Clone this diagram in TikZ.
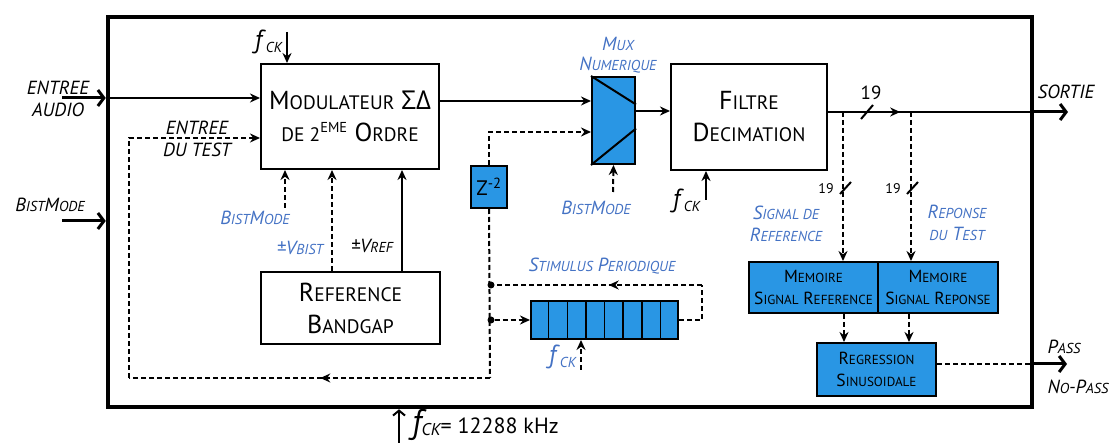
\documentclass[tikz,border=0pt]{standalone}
\usepackage{fontspec}
\setmainfont{PT Sans}
\newfontfamily\grk{Open Sans}
\usepackage{relsize}
\usetikzlibrary{arrows.meta, positioning, calc, decorations.markings}
\definecolor{mblue}{RGB}{41,150,228}
\definecolor{lblue}{RGB}{68,114,196}
\newcommand{\sk}[1]{\textscale{.75}{#1}}
\newcommand{\fck}{\textit{f}\raisebox{-.3ex}{\textscale{.58}{\textit{CK}}}}

\begin{document}
\begin{tikzpicture}[x=1pt, y=-1pt,
          box/.style={rectangle, draw, line width=2pt, align=center, inner sep=0pt, font=\fontsize{26}{32}\selectfont},
          bluebox/.style={box, fill=mblue, font=\fontsize{17.5}{22}\selectfont},
          sig/.style={line width=2pt},
          dsig/.style={sig, dash pattern=on 5pt off 3pt},
          arr/.style={-{Stealth[length=10pt,width=9pt]}},
          bigarr/.style={line width=3pt, -{Straight Barb[length=6pt,width=16pt]}},
          midarrow/.style={postaction={decorate}, decoration={markings, mark=at position #1 with {\arrow{Stealth[length=10pt,width=9pt]}}}},
          dot/.style={circle, fill, inner sep=0pt, minimum size=7pt},
          lbl/.style={font=\fontsize{19}{24}\selectfont\itshape, align=center, inner sep=0pt},
          blbl/.style={lbl, text=lblue}]
        \useasboundingbox (0,0) rectangle (1116,443);
        \node [draw, line width=4.5pt, minimum width=924pt, minimum height=390pt, inner sep=0pt] (frame) at (570,212) {};

        % blocs
        \node [box, minimum width=178pt, minimum height=105pt] (mod) at (350,116.5) {M\sk{ODULATEUR} {\grk ΣΔ}\\\sk{DE 2}\textsuperscript{\sk{EME}} O\sk{RDRE}};
        \node [box, minimum width=179pt, minimum height=72pt] (bg) at (350.5,308) {R\sk{EFERENCE}\\B\sk{ANDGAP}};
        \node [box, minimum width=156pt, minimum height=106pt] (filt) at (749,117) {F\sk{ILTRE}\\D\sk{ECIMATION}};
        \node [bluebox, minimum width=43pt, minimum height=87pt] (mux) at (613.5,120.5) {};
        \node [bluebox, minimum width=36pt, minimum height=42pt, font=\fontsize{21}{24}\selectfont] (zinv) at (489,187) {Z\textsuperscript{-2}};
        \node [bluebox, minimum width=129pt, minimum height=51pt] (memref) at (813.5,287.5) {M\sk{EMOIRE}\\S\sk{IGNAL} R\sk{EFERENCE}};
        \node [bluebox, minimum width=120pt, minimum height=51pt] (memrep) at (938,287.5) {M\sk{EMOIRE}\\S\sk{IGNAL} R\sk{EPONSE}};
        \node [bluebox, minimum width=119pt, minimum height=53pt] (reg) at (876.5,369.5) {R\sk{EGRESSION}\\S\sk{INUSOIDALE}};
        \node [bluebox, minimum width=147pt, minimum height=38pt] (shreg) at (604.5,320) {};
        \foreach \i in {1,...,7}
          \draw [line width=1.5pt] ($(shreg.south west)!\i/8!(shreg.south east)$) -- ($(shreg.north west)!\i/8!(shreg.north east)$);
        \draw [line width=2pt] (mux.north west) -- ($(mux.north east)!0.32!(mux.south east)$);
        \draw [line width=2pt] (mux.south west) -- ($(mux.north east)!0.59!(mux.south east)$);

        % textes
        \node [lbl] (audio) at (58,99) {ENTREE\\[-2pt]AUDIO};
        \node [lbl] (test) at (197,139) {ENTREE\\[-2pt]DU TEST};
        \node [lbl] (bmleft) at (50,205) {B\sk{IST}M\sk{ODE}};
        \node [lbl, anchor=east, font=\fontsize{26}{28}\selectfont] (fcktop) at (283,42) {\fck};
        \node [blbl] (bmmod) at (255,218) {B\sk{IST}M\sk{ODE}};
        \node [blbl] (vbist) at (300,248) {±V\sk{BIST}};
        \node [lbl] (vref) at (372,246) {±V\sk{REF}};
        \node [blbl] (muxlbl) at (618,55) {M\sk{UX}\\[-4pt]N\sk{UMERIQUE}};
        \node [blbl] (bmmux) at (596,208) {B\sk{IST}M\sk{ODE}};
        \node [lbl, anchor=east, font=\fontsize{26}{28}\selectfont] (fckfilt) at (701,201) {\fck};
        \node [font=\fontsize{19}{20}\selectfont, inner sep=0pt] (n19) at (871,93) {19};
        \node [font=\fontsize{14}{14}\selectfont, inner sep=0pt] (n19a) at (826,189) {19};
        \node [font=\fontsize{14}{14}\selectfont, inner sep=0pt] (n19b) at (893,189) {19};
        \node [lbl] (sortie) at (1066,92) {SORTIE};
        \node [blbl] (sigref) at (786,224) {S\sk{IGNAL DE}\\[-2pt]R\sk{EFERENCE}};
        \node [blbl] (reptest) at (957,223) {R\sk{EPONSE}\\[-2pt]\sk{DU} T\sk{EST}};
        \node [blbl] (stim) at (602,266) {S\sk{TIMULUS} P\sk{ERIODIQUE}};
        \node [blbl, anchor=east, font=\fontsize{26}{28}\selectfont] (fckreg) at (577,357) {\fck};
        \node [lbl] (pass) at (1064,347) {P\sk{ASS}};
        \node [lbl] (nopass) at (1078,387) {N\sk{O}-P\sk{ASS}};
        \node [inner sep=0pt, anchor=west] (fckmain) at (412,425) {{\fontsize{34}{34}\selectfont\itshape f}\raisebox{-.3ex}{\fontsize{17}{17}\selectfont\itshape CK}{\fontsize{22}{24}\selectfont= 12288 kHz}};

        % niveaux
        \coordinate (yaud) at (0,98);
        \coordinate (ytin) at (0,138);
        \coordinate (ymod) at (0,101);
        \coordinate (ytst) at (0,132);
        \coordinate (ymx) at (0,111);
        \coordinate (yout) at (0,112);
        \coordinate (ypass) at (0,364);
        \coordinate (ain) at (62,98);
        \coordinate (bin) at (62,221);
        \coordinate (ctop) at (287,32);
        \coordinate (cfilt) at (706,200);
        \coordinate (creg) at (581,370);
        \coordinate (cmain) at (399,443);
        \coordinate (zb) at (490,378);
        \coordinate (lb) at (129,378);
        \coordinate (lt) at (129,138);
        \coordinate (sr) at (702,320);
        \coordinate (st) at (702,285);
        \coordinate (br1) at (843,112);
        \coordinate (br2) at (911,112);
        \coordinate (m1) at (844,0);
        \coordinate (m2) at (909,0);
        \coordinate (vb) at (332,0);
        \coordinate (vr) at (402,0);
        \coordinate (vm) at (285,208);
        \coordinate (vx) at (613,192);
        \node [dot] (d1) at (491,285) {};
        \node [dot] (d2) at (491,320) {};

        % liaisons
        \draw [bigarr] (ain) -- (ain -| frame.west);
        \draw [bigarr] (bin) -- (bin -| frame.west);
        \draw [sig, arr] (yaud -| frame.west) -- (yaud -| mod.west);
        \draw [sig, arr] (ctop) -- (ctop |- mod.north);
        \draw [sig, arr] (ymod -| mod.east) -- (ymod -| mux.west);
        \draw [dsig] (zinv.south) -- (zb);
        \draw [dsig, midarrow=0.47] (zb) -- (lb);
        \draw [dsig, arr] (lb) -- (lt) -- (ytin -| mod.west);
        \draw [dsig, arr] (zinv.north) |- (ytst -| mux.west);
        \draw [dsig, arr] (vx) -- (mux.south);
        \draw [dsig, arr] (vm) -- (vm |- mod.south);
        \draw [dsig, arr] (bg.north -| vb) -- (mod.south -| vb);
        \draw [sig, arr] (bg.north -| vr) -- (mod.south -| vr);
        \draw [sig, arr] (ymx -| mux.east) -- (ymx -| filt.west);
        \draw [sig, arr] (cfilt) -- (cfilt |- filt.south);
        \draw [sig, midarrow=0.35] (yout -| filt.east) -- (yout -| frame.east);
        \draw [bigarr] (yout -| frame.east) -- (1068,112);
        \draw [sig] (861,119) -- (873,105);
        \draw [dsig, arr] (br1) -- (br1 |- memref.north);
        \draw [dsig, arr] (br2) -- (br2 |- memrep.north);
        \draw [sig] (840,194) -- (851,182);
        \draw [sig] (907,194) -- (918,182);
        \draw [dsig, arr] (m1 |- memref.south) -- (m1 |- reg.north);
        \draw [dsig, arr] (m2 |- memrep.south) -- (m2 |- reg.north);
        \draw [dsig] (ypass -| reg.east) -- (ypass -| frame.east);
        \draw [bigarr] (ypass -| frame.east) -- (1067,364);
        \draw [dsig] (shreg.east) -- (sr) -- (st);
        \draw [dsig, midarrow=0.45] (st) -- (d1);
        \draw [dsig, arr] (d2) -- (shreg.west);
        \draw [dsig, arr] (creg) -- (creg |- shreg.south);
        \draw [sig, -{Straight Barb[length=5pt,width=12pt]}] (cmain) -- (cmain |- frame.south);
      \end{tikzpicture}
\end{document}
